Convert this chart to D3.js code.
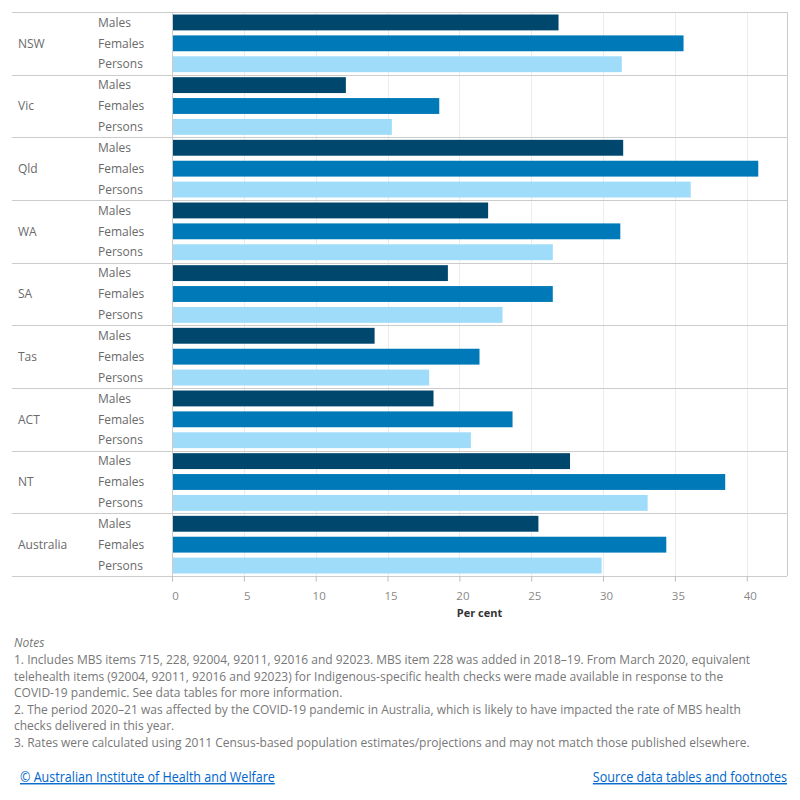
<!DOCTYPE html>
<html>
<head>
<meta charset="utf-8">
<script src="https://d3js.org/d3.v7.min.js"></script>
<style>
  body { margin: 0; background: #fff; }
  svg text { font-family: "Open Sans", sans-serif; }
</style>
</head>
<body>
<svg id="chart" width="800" height="800"></svg>
<script>
// data
const states = ['NSW', 'Vic', 'Qld', 'WA', 'SA', 'Tas', 'ACT', 'NT', 'Australia'];
const sexes = ['Males', 'Females', 'Persons'];
const males   = [26.9, 12.1, 31.4, 22.0, 19.2, 14.1, 18.2, 27.7, 25.5];
const females = [35.6, 18.6, 40.8, 31.2, 26.5, 21.4, 23.7, 38.5, 34.4];
const persons = [31.3, 15.3, 36.1, 26.5, 23.0, 17.9, 20.8, 33.1, 29.9];
const xTicks = [0, 5, 10, 15, 20, 25, 30, 35, 40];
const notes = [
  '1. Includes MBS items 715, 228, 92004, 92011, 92016 and 92023. MBS item 228 was added in 2018\u201319. From March 2020, equivalent',
  'telehealth items (92004, 92011, 92016 and 92023) for Indigenous-specific health checks were made available in response to the',
  'COVID-19 pandemic. See data tables for more information.',
  '2. The period 2020\u201321 was affected by the COVID-19 pandemic in Australia, which is likely to have impacted the rate of MBS health',
  'checks delivered in this year.',
  '3. Rates were calculated using 2011 Census-based population estimates/projections and may not match those published elsewhere.'
];

const series = {Males: males, Females: females, Persons: persons};
const colors = {Males: '#00476e', Females: '#0079b8', Persons: '#9edcf9'};

const svg = d3.select('#chart');
const frameLeft = 12, plotLeft = 172, plotRight = 787, plotTop = 12, plotBottom = 576;

const x = d3.scaleLinear().domain([0, 42.8]).range([plotLeft, plotRight]);
const yGroup = d3.scaleBand().domain(states).range([plotTop, plotBottom]);
const ySub = d3.scaleBand().domain(sexes).range([0, yGroup.bandwidth()]).paddingInner(0.24).paddingOuter(0.12);

// vertical gridlines
svg.append('g').selectAll('line').data(xTicks.slice(1))
  .join('line')
  .attr('x1', d => Math.round(x(d)) + 0.5).attr('x2', d => Math.round(x(d)) + 0.5)
  .attr('y1', plotTop).attr('y2', plotBottom)
  .attr('stroke', '#ececec').attr('stroke-width', 1);

// bars
const groups = svg.append('g').selectAll('g').data(states)
  .join('g')
  .attr('transform', d => `translate(0,${yGroup(d)})`);

groups.selectAll('rect').data((s, i) => sexes.map(k => ({k: k, v: series[k][i]})))
  .join('rect')
  .attr('x', x(0))
  .attr('y', d => ySub(d.k))
  .attr('width', d => x(d.v) - x(0))
  .attr('height', ySub.bandwidth())
  .attr('fill', d => colors[d.k]);

// row labels
groups.append('text')
  .attr('x', 18).attr('y', yGroup.bandwidth() / 2)
  .attr('dy', '0.35em')
  .attr('font-size', 12).attr('fill', '#6a6a6a')
  .text(d => d);

groups.selectAll('text.sub').data(sexes)
  .join('text').attr('class', 'sub')
  .attr('x', 98).attr('y', d => ySub(d) + ySub.bandwidth() / 2)
  .attr('dy', '0.35em')
  .attr('font-size', 12).attr('fill', '#6a6a6a')
  .text(d => d);

// horizontal separators
svg.append('g').selectAll('line').data(states.map(s => yGroup(s)).concat([plotBottom]))
  .join('line')
  .attr('x1', frameLeft).attr('x2', plotRight)
  .attr('y1', d => Math.round(d) + 0.5).attr('y2', d => Math.round(d) + 0.5)
  .attr('stroke', '#cccccc');

// frame lines
svg.append('line').attr('x1', plotLeft + 0.5).attr('x2', plotLeft + 0.5)
  .attr('y1', plotTop).attr('y2', plotBottom).attr('stroke', '#cccccc');
svg.append('line').attr('x1', plotRight + 0.5).attr('x2', plotRight + 0.5)
  .attr('y1', plotTop).attr('y2', plotBottom).attr('stroke', '#cccccc');

// x axis
const xAxis = svg.append('g')
  .attr('transform', `translate(0,${plotBottom + 0.5})`)
  .call(d3.axisBottom(x).tickValues(xTicks).tickSize(5).tickSizeOuter(0).tickPadding(10));
xAxis.select('.domain').remove();
xAxis.selectAll('.tick line').attr('stroke', '#bbbbbb');
xAxis.selectAll('.tick text')
  .attr('dx', 3)
  .attr('font-family', '"Open Sans", sans-serif')
  .attr('font-size', 11.5).attr('fill', '#888888');

svg.append('text')
  .attr('x', (plotLeft + plotRight) / 2).attr('y', 617)
  .attr('text-anchor', 'middle')
  .attr('font-size', 11).attr('font-weight', 'bold').attr('fill', '#333333')
  .text('Per cent');

// notes
svg.append('text')
  .attr('x', 14).attr('y', 647)
  .attr('font-size', 12).attr('font-style', 'italic').attr('fill', '#777777')
  .text('Notes');

svg.append('g').selectAll('text').data(notes)
  .join('text')
  .attr('x', 14).attr('y', (d, i) => 664 + i * 16.5)
  .attr('font-size', 12).attr('fill', '#777777')
  .text(d => d);

// links (narrow face in the original, squeezed horizontally)
svg.append('text')
  .attr('transform', 'translate(20,782) scale(0.895,1)')
  .attr('font-family', '"Liberation Sans", Arial, sans-serif')
  .attr('font-size', 14).attr('fill', '#0066cc')
  .attr('text-decoration', 'underline')
  .text('\u00a9 Australian Institute of Health and Welfare');

svg.append('text')
  .attr('transform', 'translate(787,782) scale(0.9,1)')
  .attr('text-anchor', 'end')
  .attr('font-family', '"Liberation Sans", Arial, sans-serif')
  .attr('font-size', 14).attr('fill', '#0066cc')
  .attr('text-decoration', 'underline')
  .text('Source data tables and footnotes');
</script>
</body>
</html>
